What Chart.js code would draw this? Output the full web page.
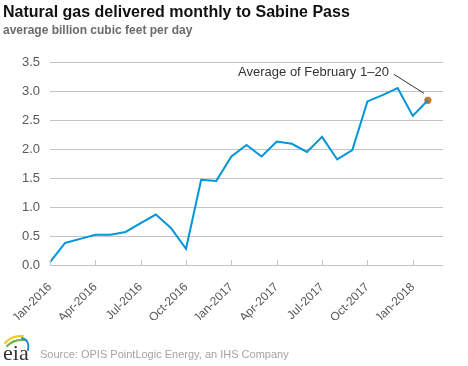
<!DOCTYPE html>
<html>
<head>
<meta charset="utf-8">
<script src="https://cdn.jsdelivr.net/npm/chart.js@4.4.1/dist/chart.umd.min.js"></script>
<style>
  html, body { margin: 0; padding: 0; background: #ffffff; }
  #wrap { width: 468px; height: 366px; position: relative; }
</style>
</head>
<body>
<div id="wrap"><canvas id="c" width="468" height="366"></canvas></div>
<script>
// ---- data ----
const months = [
  'Jan-2016','Feb-2016','Mar-2016','Apr-2016','May-2016','Jun-2016',
  'Jul-2016','Aug-2016','Sep-2016','Oct-2016','Nov-2016','Dec-2016',
  'Jan-2017','Feb-2017','Mar-2017','Apr-2017','May-2017','Jun-2017',
  'Jul-2017','Aug-2017','Sep-2017','Oct-2017','Nov-2017','Dec-2017',
  'Jan-2018','Feb-2018','Mar-2018'
];
const deliveries = [
  0.05, 0.38, 0.45, 0.52, 0.52, 0.57, 0.72, 0.87, 0.64, 0.28, 1.47, 1.45,
  1.87, 2.07, 1.87, 2.13, 2.09, 1.95, 2.21, 1.82, 1.98, 2.82, 2.93, 3.05,
  2.57, 2.84, null
];
const febAverageLabel = 'Feb-2018';
const febAverageValue = 2.84;
const shownTickLabels = ['Jan-2016','Apr-2016','Jul-2016','Oct-2016','Jan-2017','Apr-2017','Jul-2017','Oct-2017','Jan-2018'];
const yTicks = [0, 0.5, 1.0, 1.5, 2.0, 2.5, 3.0, 3.5];

const titleText = 'Natural gas delivered monthly to Sabine Pass';
const subtitleText = 'average billion cubic feet per day';
const sourceText = 'Source: OPIS PointLogic Energy, an IHS Company';
const annotationText = 'Average of February 1\u201320';

const febPoint = months.map(m => m === febAverageLabel ? febAverageValue : null);

const FONT = '"Liberation Sans", Arial, sans-serif';
const GRID = '#c4c4c4';

const decor = {
  id: 'decor',
  afterDatasetsDraw(chart) {
    const ctx = chart.ctx;
    const xs = chart.scales.x, ys = chart.scales.y;
    const area = chart.chartArea;
    ctx.save();
    // inward tick marks on x axis
    ctx.strokeStyle = GRID;
    ctx.lineWidth = 1;
    months.forEach((m, i) => {
      if (shownTickLabels.includes(m)) {
        const px = Math.round(xs.getPixelForValue(i)) + 0.5;
        ctx.beginPath();
        ctx.moveTo(px, area.bottom - 5);
        ctx.lineTo(px, area.bottom);
        ctx.stroke();
      }
    });
    // annotation
    const fi = months.indexOf(febAverageLabel);
    const px = xs.getPixelForValue(fi);
    const py = ys.getPixelForValue(febAverageValue);
    ctx.font = '13px ' + FONT;
    ctx.fillStyle = '#333333';
    ctx.textAlign = 'right';
    ctx.textBaseline = 'alphabetic';
    ctx.fillText(annotationText, px - 39, py - 24);
    ctx.strokeStyle = '#333333';
    ctx.beginPath();
    ctx.moveTo(px - 34, py - 26);
    ctx.lineTo(px - 4, py - 7);
    ctx.stroke();
    ctx.restore();
  },
  afterDraw(chart) {
    const ctx = chart.ctx;
    ctx.save();
    ctx.textAlign = 'left';
    ctx.textBaseline = 'alphabetic';
    ctx.fillStyle = '#111111';
    ctx.font = 'bold 16px ' + FONT;
    ctx.fillText(titleText, 3, 17);
    ctx.fillStyle = '#6b6b6b';
    ctx.font = 'bold 12px ' + FONT;
    ctx.fillText(subtitleText, 3, 34);
    ctx.fillStyle = '#a3a3a3';
    ctx.font = '11px ' + FONT;
    ctx.textBaseline = 'middle';
    ctx.fillText(sourceText, 40, 355);
    // eia logo
    ctx.lineCap = 'round';
    ctx.lineWidth = 2;
    ctx.strokeStyle = '#f2c81a';
    ctx.beginPath(); ctx.moveTo(5, 343); ctx.quadraticCurveTo(12, 335, 23, 336); ctx.stroke();
    ctx.strokeStyle = '#6cb33f';
    ctx.beginPath(); ctx.moveTo(7, 346); ctx.quadraticCurveTo(14, 339, 25, 340); ctx.stroke();
    ctx.strokeStyle = '#1b8ccb';
    ctx.beginPath(); ctx.moveTo(22, 338); ctx.quadraticCurveTo(30, 340, 28, 350); ctx.stroke();
    ctx.fillStyle = '#333333';
    ctx.font = '22px "Liberation Serif", "Times New Roman", serif';
    ctx.textBaseline = 'alphabetic';
    ctx.fillText('eia', 3, 360);
    ctx.restore();
  }
};

new Chart(document.getElementById('c'), {
  type: 'line',
  data: {
    labels: months,
    datasets: [
      {
        label: 'Deliveries',
        data: deliveries,
        borderColor: '#0096d7',
        borderWidth: 2,
        pointRadius: 0,
        tension: 0,
        fill: false,
        spanGaps: false
      },
      {
        label: 'Average of February 1-20',
        data: febPoint,
        showLine: false,
        pointRadius: 3.6,
        pointBackgroundColor: '#c8782c',
        pointBorderWidth: 0,
        borderColor: '#c8782c'
      }
    ]
  },
  options: {
    responsive: false,
    animation: false,
    devicePixelRatio: 1,
    layout: { padding: { top: 62, right: 25, bottom: 46, left: 0 } },
    plugins: {
      legend: { display: false },
      title: { display: false },
      tooltip: { enabled: false }
    },
    scales: {
      x: {
        type: 'category',
        offset: false,
        grid: { display: false },
        border: { display: false },
        afterFit(scale) { scale.height = 55; },
        ticks: {
          autoSkip: false,
          minRotation: 45,
          maxRotation: 45,
          padding: 7,
          color: '#595959',
          font: { family: FONT, size: 12 },
          callback(value, index) {
            const lab = months[index];
            return shownTickLabels.includes(lab) ? lab : null;
          }
        }
      },
      y: {
        min: yTicks[0],
        max: yTicks[yTicks.length - 1],
        afterFit(scale) { scale.width = 50; },
        afterBuildTicks(scale) { scale.ticks = yTicks.map(v => ({ value: v })); },
        grid: { color: GRID, drawTicks: false, lineWidth: 1 },
        border: { display: false },
        ticks: {
          padding: 10,
          color: '#595959',
          font: { family: FONT, size: 13 },
          callback(v) { return Number(v).toFixed(1); }
        }
      }
    }
  },
  plugins: [decor]
});
</script>
</body>
</html>
